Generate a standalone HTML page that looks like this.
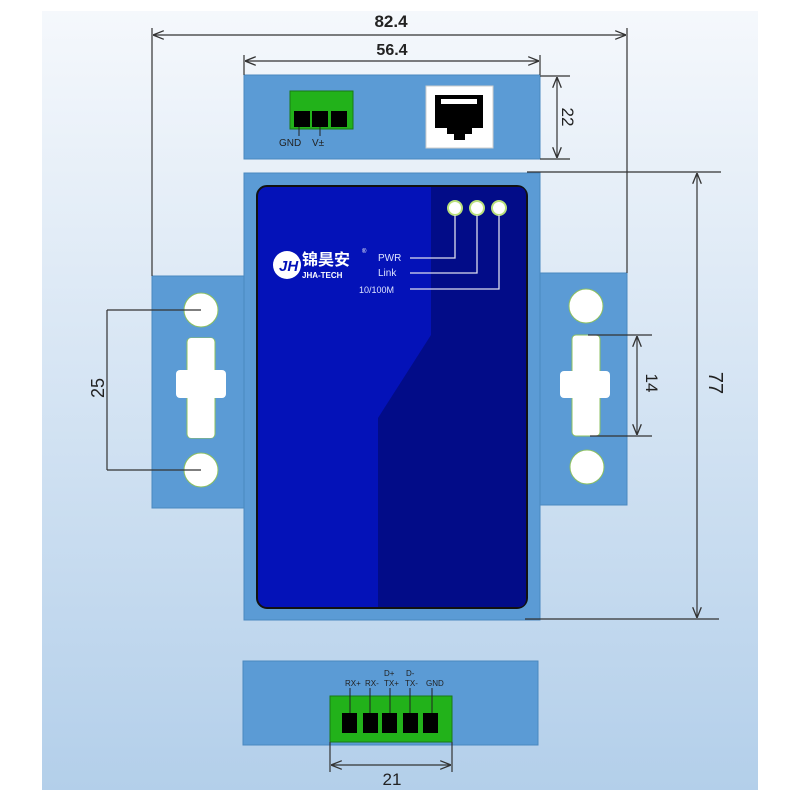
<!DOCTYPE html>
<html><head><meta charset="utf-8"><style>
html,body{margin:0;padding:0;background:#fff;width:800px;height:800px;overflow:hidden}
svg{display:block}
</style></head><body>
<svg width="800" height="800" viewBox="0 0 800 800" xmlns="http://www.w3.org/2000/svg" font-family="Liberation Sans, sans-serif">
<defs>
<linearGradient id="bg" x1="0" y1="0" x2="0" y2="1">
<stop offset="0" stop-color="#f5f8fc"/><stop offset="1" stop-color="#b3cfea"/>
</linearGradient>
<marker id="a" viewBox="0 0 10 10" refX="10" refY="5" markerWidth="9" markerHeight="9" orient="auto-start-reverse"><path d="M0,1 L10,5 L0,9" fill="none" stroke="#333" stroke-width="1.2"/></marker>
</defs>
<rect x="42" y="11" width="716" height="779" fill="url(#bg)"/>
<!-- ears -->
<rect x="152" y="276" width="92" height="232" fill="#5b9bd5" stroke="#4a88c0"/>
<rect x="540" y="273" width="87" height="232" fill="#5b9bd5" stroke="#4a88c0"/>
<!-- top strip -->
<rect x="244" y="75" width="296" height="84" fill="#5b9bd5" stroke="#4a88c0"/>
<!-- main body -->
<rect x="244" y="173" width="296" height="447" fill="#5b9bd5" stroke="#4a88c0"/>
<rect x="257" y="186" width="270" height="422" rx="10" fill="#0412b8" stroke="#111" stroke-width="2"/>
<path d="M431,187 L518,187 Q526,187 526,196 L526,598 Q526,607 518,607 L378,607 L378,418 L431,335 Z" fill="#020c88"/>
<!-- bottom strip -->
<rect x="243" y="661" width="295" height="84" fill="#5b9bd5" stroke="#4a88c0"/>
<!-- holes -->
<g fill="#fff" stroke="#8cc060" stroke-width="1">
<circle cx="201" cy="310" r="17"/><circle cx="201" cy="470" r="17"/>
<circle cx="586" cy="306" r="17"/><circle cx="587" cy="467" r="17"/>
<rect x="187" y="338" width="28" height="100" rx="4"/>
<rect x="572" y="335" width="28" height="101" rx="4"/>
</g>
<rect x="176" y="370" width="50" height="28" rx="4" fill="#fff"/>
<rect x="188" y="338" width="26" height="100" rx="3" fill="#fff"/>
<rect x="560" y="371" width="50" height="27" rx="4" fill="#fff"/>
<rect x="573" y="336" width="26" height="99" rx="3" fill="#fff"/>
<!-- top terminal -->
<rect x="290" y="91" width="63" height="38" fill="#22b21a" stroke="#1a7a14"/>
<rect x="294" y="111" width="16" height="16" fill="#000"/><rect x="312" y="111" width="16" height="16" fill="#000"/><rect x="331" y="111" width="16" height="16" fill="#000"/>
<line x1="299" y1="127" x2="299" y2="136" stroke="#222"/><line x1="320" y1="127" x2="320" y2="136" stroke="#222"/>
<text x="279" y="146" font-size="10" fill="#222">GND</text><text x="312" y="146" font-size="10" fill="#222">V±</text>
<!-- RJ45 -->
<rect x="426" y="86" width="67" height="62" fill="#fff" stroke="#ccc"/>
<path d="M435,95 H483 V128 H472 V134 H465 V140 H454 V134 H447 V128 H435 Z" fill="#000"/>
<rect x="441" y="99" width="36" height="5" fill="#fff"/>
<!-- LEDs -->
<g fill="#fff" stroke="#b9e07a" stroke-width="2"><circle cx="455" cy="208" r="7"/><circle cx="477" cy="208" r="7"/><circle cx="499" cy="208" r="7"/></g>
<g fill="none" stroke="#dde" stroke-width="1.3">
<path d="M410,258 H455 V215"/><path d="M410,273 H477 V215"/><path d="M410,289 H499 V215"/>
</g>
<g fill="#dfe4ff" font-size="10">
<text x="378" y="261">PWR</text><text x="378" y="276">Link</text><text x="359" y="293" font-size="9">10/100M</text>
</g>
<circle cx="287" cy="265" r="14" fill="#fff"/><text x="279" y="271" font-size="15" font-weight="bold" font-style="italic" fill="#0412b8">JH</text>
<text x="302" y="265" font-size="16" font-weight="bold" fill="#fff" font-family="Liberation Sans, Noto Sans CJK SC, sans-serif">锦昊安</text>
<text x="362" y="253" font-size="6" fill="#fff">®</text>
<text x="302" y="278" font-size="8" font-weight="bold" fill="#fff">JHA-TECH</text>
<!-- bottom terminal -->
<rect x="330" y="696" width="122" height="46" fill="#22b21a" stroke="#1a7a14"/>
<g fill="#000"><rect x="342" y="713" width="15" height="20"/><rect x="363" y="713" width="15" height="20"/><rect x="382" y="713" width="15" height="20"/><rect x="403" y="713" width="15" height="20"/><rect x="423" y="713" width="15" height="20"/></g>
<g stroke="#222"><line x1="350" y1="688" x2="350" y2="713"/><line x1="370" y1="688" x2="370" y2="713"/><line x1="390" y1="688" x2="390" y2="713"/><line x1="410" y1="688" x2="410" y2="713"/><line x1="432" y1="688" x2="432" y2="713"/></g>
<g font-size="8" fill="#222"><text x="345" y="686">RX+</text><text x="365" y="686">RX-</text><text x="384" y="686">TX+</text><text x="384" y="676">D+</text><text x="405" y="686">TX-</text><text x="406" y="676">D-</text><text x="426" y="686">GND</text></g>
<!-- dimensions -->
<g stroke="#333" stroke-width="1.2" fill="none">
<line x1="152" y1="28" x2="152" y2="276"/><line x1="627" y1="28" x2="627" y2="273"/>
<line x1="153" y1="35" x2="626" y2="35" marker-start="url(#a)" marker-end="url(#a)"/>
<line x1="244" y1="55" x2="244" y2="75"/><line x1="540" y1="55" x2="540" y2="75"/>
<line x1="245" y1="61" x2="539" y2="61" marker-start="url(#a)" marker-end="url(#a)"/>
<line x1="540" y1="76" x2="570" y2="76"/><line x1="540" y1="159" x2="570" y2="159"/>
<line x1="557" y1="77" x2="557" y2="158" marker-start="url(#a)" marker-end="url(#a)"/>
<line x1="527" y1="172" x2="721" y2="172"/><line x1="525" y1="619" x2="719" y2="619"/>
<line x1="697" y1="173" x2="697" y2="618" marker-start="url(#a)" marker-end="url(#a)"/>
<line x1="588" y1="335" x2="652" y2="335"/><line x1="590" y1="436" x2="652" y2="436"/>
<line x1="637" y1="336" x2="637" y2="435" marker-start="url(#a)" marker-end="url(#a)"/>
<line x1="107" y1="310" x2="201" y2="310"/><line x1="107" y1="470" x2="201" y2="470"/>
<line x1="107" y1="310" x2="107" y2="470"/>
<line x1="330" y1="742" x2="330" y2="772"/><line x1="452" y1="742" x2="452" y2="772"/>
<line x1="331" y1="765" x2="451" y2="765" marker-start="url(#a)" marker-end="url(#a)"/>
</g>
<g fill="#222" font-size="17">
<text x="391" y="27" text-anchor="middle" font-weight="bold">82.4</text>
<text x="392" y="55" text-anchor="middle" font-weight="bold" font-size="16">56.4</text>
<text x="392" y="785" text-anchor="middle">21</text>
<text transform="translate(562,117) rotate(90)" text-anchor="middle">22</text>
<text transform="translate(709,383) rotate(90)" text-anchor="middle" font-size="20">77</text>
<text transform="translate(646,383) rotate(90)" text-anchor="middle">14</text>
<text transform="translate(104,388) rotate(-90)" text-anchor="middle" font-size="18">25</text>
</g>
</svg>
</body></html>
